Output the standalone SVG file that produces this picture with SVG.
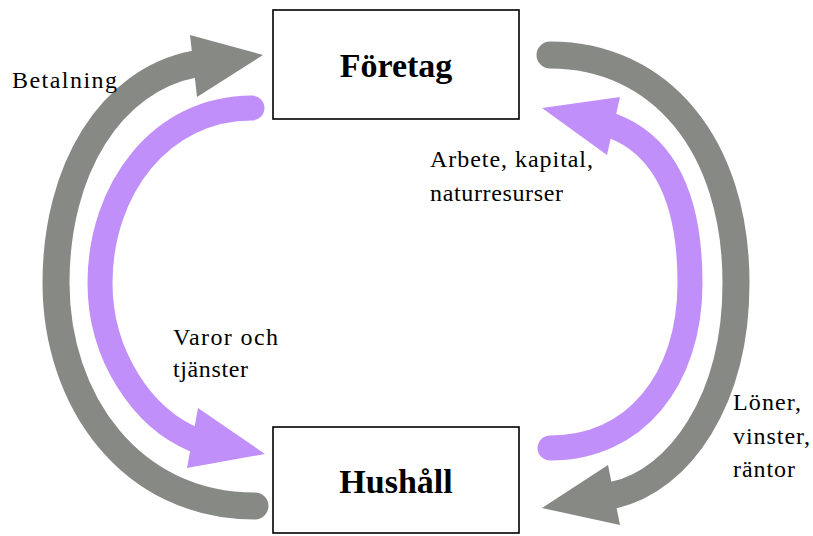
<svg xmlns="http://www.w3.org/2000/svg" width="813" height="536" viewBox="0 0 813 536">
<style>
.box{fill:#fff;stroke:#000;stroke-width:1.6}
.title{font-family:"Liberation Serif","Times New Roman",serif;font-size:34px;font-weight:bold;fill:#000;text-anchor:middle}
.lbl{font-family:"Liberation Serif","Times New Roman",serif;font-size:24px;fill:#000}
.gray{fill:none;stroke:#878985;stroke-width:27;stroke-linecap:round}
.purple{fill:none;stroke:#c18ff9;stroke-width:25;stroke-linecap:round}
.ghead{fill:#878985}
.phead{fill:#c18ff9}
</style>
<rect width="813" height="536" fill="#fff"/>
<g id="connectors">
  <g id="betalning">
    <path class="gray" d="M255,506 C130,506 56,400 56,283 C56,170 110,80 195,64"/>
    <polygon class="ghead" points="263,55 190,35 197,97"/>
  </g>
  <g id="varor">
    <path class="purple" d="M252,108 C160,108 100,190 100,283 C100,355 142,418 195,440"/>
    <polygon class="phead" points="265,454 198,408 187,468"/>
  </g>
  <g id="loner">
    <path class="gray" d="M550,55 C660,55 736,145 736,283 C736,400 680,480 614,495"/>
    <polygon class="ghead" points="542,508 608,465 620,525"/>
  </g>
  <g id="arbete">
    <path class="purple" d="M550,448 C635,448 690,380 690,283 C690,195 662,145 613,126"/>
    <polygon class="phead" points="542,108 620,97 607,155"/>
  </g>
</g>
<g id="node-foretag">
  <rect class="box" x="273" y="10" width="246" height="109"/>
  <text class="title" x="396" y="77">Företag</text>
</g>
<g id="node-hushall">
  <rect class="box" x="273" y="427" width="246" height="106"/>
  <text class="title" x="396" y="493">Hushåll</text>
</g>
<g id="labels">
  <text class="lbl" x="12" y="88" textLength="105" lengthAdjust="spacing">Betalning</text>
  <text class="lbl" x="430" y="167" textLength="163" lengthAdjust="spacing">Arbete, kapital,</text>
  <text class="lbl" x="430" y="201" textLength="133" lengthAdjust="spacing">naturresurser</text>
  <text class="lbl" x="173" y="345" textLength="105" lengthAdjust="spacing">Varor och</text>
  <text class="lbl" x="173" y="377" textLength="75" lengthAdjust="spacing">tjänster</text>
  <text class="lbl" x="733" y="410" textLength="68" lengthAdjust="spacing">Löner,</text>
  <text class="lbl" x="733" y="444" textLength="77" lengthAdjust="spacing">vinster,</text>
  <text class="lbl" x="733" y="477" textLength="62" lengthAdjust="spacing">räntor</text>
</g>
</svg>
